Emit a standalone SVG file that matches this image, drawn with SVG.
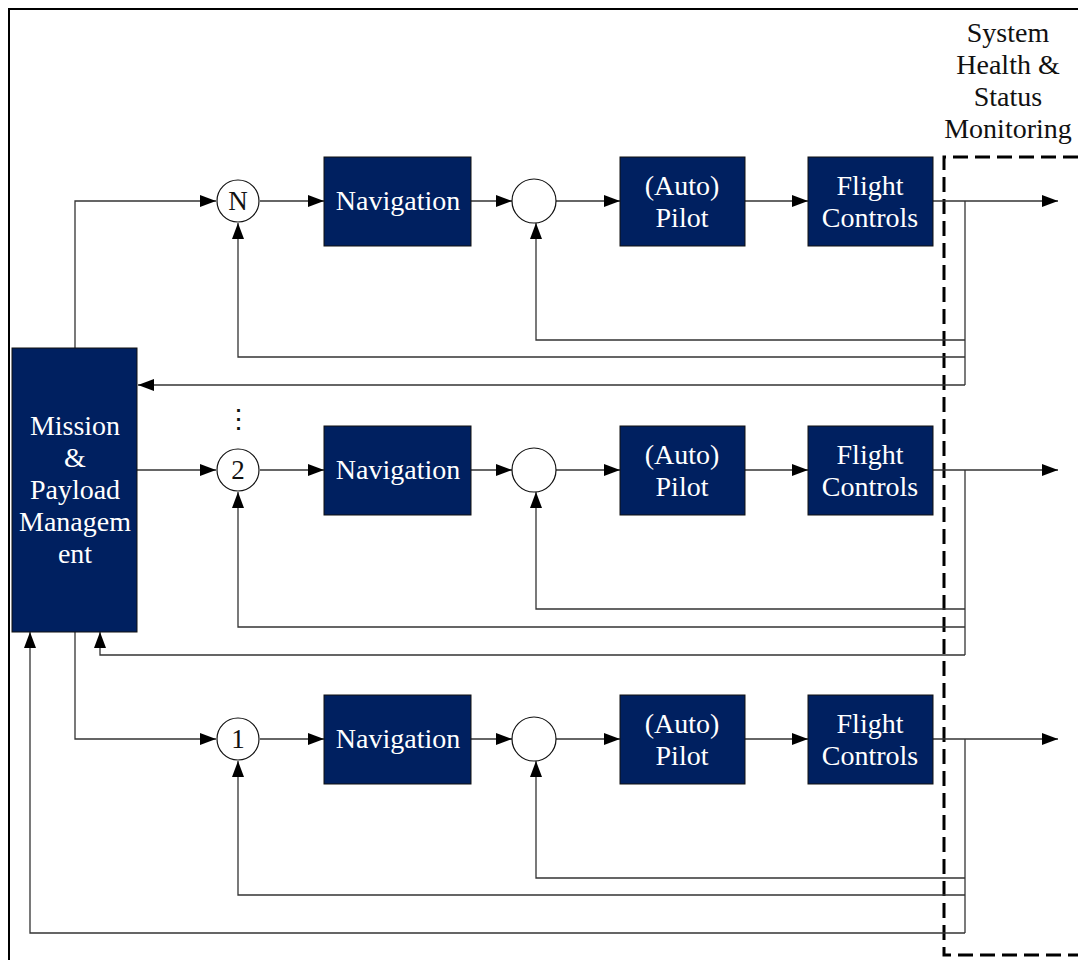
<svg xmlns="http://www.w3.org/2000/svg" width="1078" height="960" viewBox="0 0 1078 960">
  <style>
    .blk { fill: #002060; stroke: #111; stroke-width: 1; }
    .blk-t { font-family: "Liberation Serif", "Times New Roman", serif; font-size: 28px; fill: #fff; text-anchor: middle; }
    .sum { fill: #fff; stroke: #111; stroke-width: 1.2; }
    .sum-t { font-family: "Liberation Serif", "Times New Roman", serif; font-size: 27px; fill: #111; text-anchor: middle; }
    .ln { fill: none; stroke: #333; stroke-width: 1.3; }
    .lbl { font-family: "Liberation Serif", "Times New Roman", serif; font-size: 28px; fill: #111; text-anchor: middle; }
  </style>
  <defs>
    <marker id="arr" viewBox="0 0 16 12" refX="16" refY="6" markerWidth="16" markerHeight="12" markerUnits="userSpaceOnUse" orient="auto">
      <path d="M0,0 L16,6 L0,12 Z" fill="#000"/>
    </marker>
  </defs>

  <rect width="1078" height="960" fill="#fff"/>

  <!-- outer frame -->
  <path d="M9,960 V9 H1078" fill="none" stroke="#000" stroke-width="2"/>

  <!-- monitoring boundary -->
  <path d="M1078,157 H944 V955 H1078" fill="none" stroke="#000" stroke-width="3" stroke-dasharray="15 7"/>
  <g id="monitor-label">
    <text class="lbl" x="1008" y="42">System</text>
    <text class="lbl" x="1008" y="74">Health &amp;</text>
    <text class="lbl" x="1008" y="106">Status</text>
    <text class="lbl" x="1008" y="138">Monitoring</text>
  </g>

  <!-- connectors -->
  <g id="connectors" class="ln" marker-end="url(#arr)">
    <!-- mission to loop inputs -->
    <path d="M75,348 V201 H216"/>
    <path d="M137,470 H216"/>
    <path d="M75,632 V739 H216"/>

    <!-- row N -->
    <path d="M260,201 H324"/>
    <path d="M471,201 H512"/>
    <path d="M556,201 H620"/>
    <path d="M745,201 H808"/>
    <path d="M933,201 H1058"/>
    <path d="M965,201 V385" marker-end="none"/>
    <path d="M965,340 H536 V223"/>
    <path d="M965,357 H238 V223"/>
    <path d="M965,385 H138"/>

    <!-- row 2 -->
    <path d="M260,470 H324"/>
    <path d="M471,470 H512"/>
    <path d="M556,470 H620"/>
    <path d="M745,470 H808"/>
    <path d="M933,470 H1058"/>
    <path d="M965,470 V655" marker-end="none"/>
    <path d="M965,609 H536 V492"/>
    <path d="M965,627 H238 V492"/>
    <path d="M965,655 H100 V632"/>

    <!-- row 1 -->
    <path d="M260,739 H324"/>
    <path d="M471,739 H512"/>
    <path d="M556,739 H620"/>
    <path d="M745,739 H808"/>
    <path d="M933,739 H1058"/>
    <path d="M965,739 V933" marker-end="none"/>
    <path d="M965,878 H536 V761"/>
    <path d="M965,895 H238 V761"/>
    <path d="M965,933 H30 V632"/>
  </g>

  <!-- mission management -->
  <g id="mission">
    <rect class="blk" x="12" y="348" width="125" height="284"/>
    <text class="blk-t" x="75" y="435">Mission</text>
    <text class="blk-t" x="75" y="467">&amp;</text>
    <text class="blk-t" x="75" y="499">Payload</text>
    <text class="blk-t" x="75" y="531">Managem</text>
    <text class="blk-t" x="75" y="563">ent</text>
  </g>

  <text id="ellipsis" class="sum-t" x="238" y="428" font-size="18">⋮</text>

  <!-- loop N -->
  <g id="sel-n"><circle class="sum" cx="238" cy="201" r="21"/><text class="sum-t" x="238" y="210">N</text></g>
  <g id="nav-n"><rect class="blk" x="324" y="157" width="147" height="89"/><text class="blk-t" x="398" y="210">Navigation</text></g>
  <g id="sum-n"><circle class="sum" cx="534" cy="201" r="22"/></g>
  <g id="pilot-n"><rect class="blk" x="620" y="157" width="125" height="89"/><text class="blk-t" x="682" y="195">(Auto)</text><text class="blk-t" x="682" y="227">Pilot</text></g>
  <g id="fc-n"><rect class="blk" x="808" y="157" width="125" height="89"/><text class="blk-t" x="870" y="195">Flight</text><text class="blk-t" x="870" y="227">Controls</text></g>

  <!-- loop 2 -->
  <g id="sel-2"><circle class="sum" cx="238" cy="470" r="21"/><text class="sum-t" x="238" y="479">2</text></g>
  <g id="nav-2"><rect class="blk" x="324" y="426" width="147" height="89"/><text class="blk-t" x="398" y="479">Navigation</text></g>
  <g id="sum-2"><circle class="sum" cx="534" cy="470" r="22"/></g>
  <g id="pilot-2"><rect class="blk" x="620" y="426" width="125" height="89"/><text class="blk-t" x="682" y="464">(Auto)</text><text class="blk-t" x="682" y="496">Pilot</text></g>
  <g id="fc-2"><rect class="blk" x="808" y="426" width="125" height="89"/><text class="blk-t" x="870" y="464">Flight</text><text class="blk-t" x="870" y="496">Controls</text></g>

  <!-- loop 1 -->
  <g id="sel-1"><circle class="sum" cx="238" cy="739" r="21"/><text class="sum-t" x="238" y="748">1</text></g>
  <g id="nav-1"><rect class="blk" x="324" y="695" width="147" height="89"/><text class="blk-t" x="398" y="748">Navigation</text></g>
  <g id="sum-1"><circle class="sum" cx="534" cy="739" r="22"/></g>
  <g id="pilot-1"><rect class="blk" x="620" y="695" width="125" height="89"/><text class="blk-t" x="682" y="733">(Auto)</text><text class="blk-t" x="682" y="765">Pilot</text></g>
  <g id="fc-1"><rect class="blk" x="808" y="695" width="125" height="89"/><text class="blk-t" x="870" y="733">Flight</text><text class="blk-t" x="870" y="765">Controls</text></g>
</svg>
